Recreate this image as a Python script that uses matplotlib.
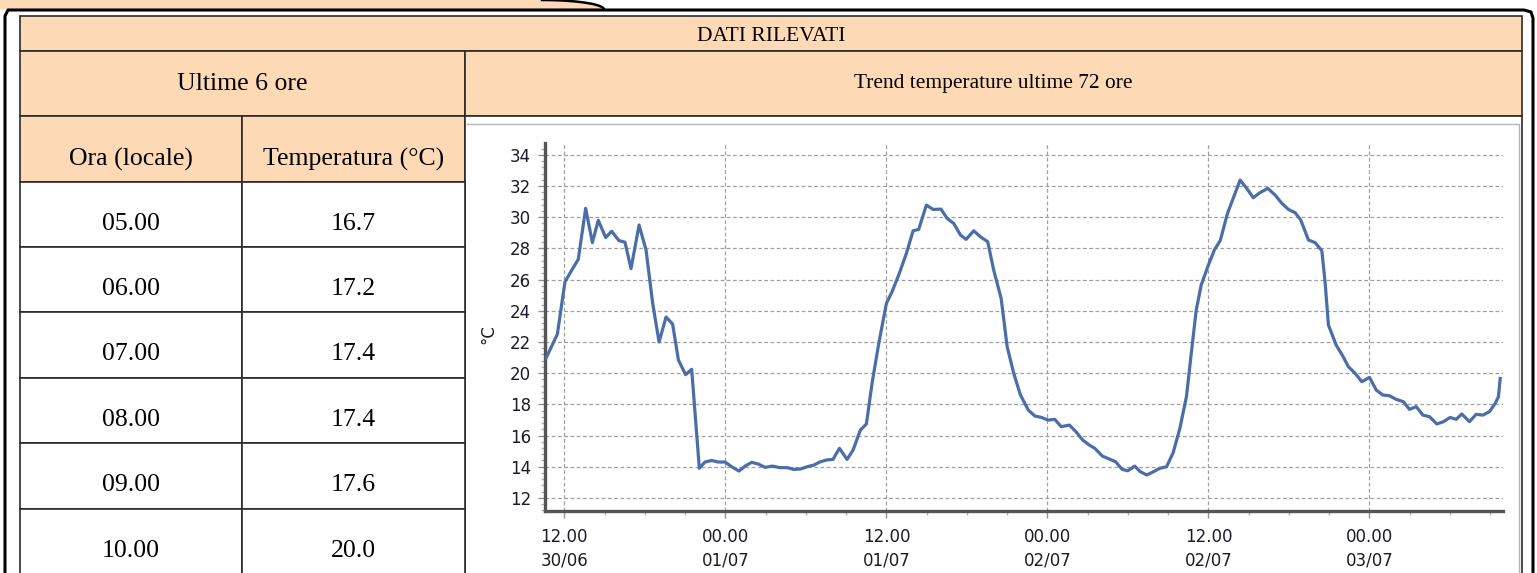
import numpy as np
import matplotlib
matplotlib.use("Agg")
import matplotlib.pyplot as plt
from matplotlib.patches import Rectangle, Polygon
from matplotlib.ticker import MultipleLocator, AutoMinorLocator

# dati tabella (ultime 6 ore)
ore = ["05.00", "06.00", "07.00", "08.00", "09.00", "10.00"]
temperature = ["16.7", "17.2", "17.4", "17.4", "17.6", "20.0"]

# trend 72 ore: ore rispetto alle 12.00 del 30/06, temperatura in °C
trend_ore = [-1.37, -0.52, 0.05, 0.55, 1.04, 1.59, 2.09, 2.53, 3.08, 3.53, 4.07, 4.52,
             4.97, 5.57, 6.09, 6.58, 7.06, 7.58, 8.07, 8.5, 9.04, 9.49, 10.06, 10.48,
             10.98, 11.48, 11.98, 12.47, 13.02, 13.47, 13.96, 14.46, 14.96, 15.5, 16.07,
             16.6, 17.09, 17.59, 18.09, 18.58, 19.03, 19.53, 20.02, 20.5, 21.07, 21.52,
             22.06, 22.51, 22.93, 23.43, 24.0, 24.42, 24.92, 25.49, 25.99, 26.41, 26.98,
             27.48, 28.07, 28.52, 29.02, 29.52, 29.94, 30.51, 31.0, 31.55, 32.0, 32.55,
             33.0, 33.49, 33.99, 34.58, 35.07, 35.56, 36.05, 36.54, 37.03, 37.64, 38.13,
             38.63, 39.12, 39.53, 40.1, 40.66, 41.08, 41.57, 41.99, 42.5, 42.92, 43.41,
             43.9, 44.39, 44.88, 45.37, 45.87, 46.36, 46.72, 47.09, 47.46, 47.95, 48.44,
             48.88, 49.42, 49.84, 50.36, 50.85, 51.34, 51.83, 52.42, 52.97, 53.47, 53.96,
             54.46, 54.88, 55.45, 55.95, 56.45, 56.7, 56.94, 57.52, 58.01, 58.43, 58.93,
             59.43, 60.0, 60.5, 60.99, 61.49, 61.99, 62.53, 62.98, 63.48, 63.98, 64.47,
             65.02, 65.52, 66.01, 66.46, 66.88, 67.45, 67.95, 68.45, 68.94, 69.37, 69.61,
             69.74]
trend_temp = [20.95, 22.5, 25.86, 26.6, 27.3, 30.57, 28.37, 29.8, 28.7, 29.1, 28.5, 28.4,
              26.7, 29.5, 27.9, 24.5, 22.0, 23.6, 23.15, 20.85, 19.9, 20.25, 13.9, 14.3,
              14.4, 14.3, 14.3, 14.0, 13.72, 14.04, 14.28, 14.17, 13.96, 14.04, 13.94,
              13.94, 13.83, 13.85, 14.0, 14.1, 14.3, 14.43, 14.47, 15.18, 14.47, 15.07,
              16.35, 16.74, 19.34, 21.9, 24.47, 25.22, 26.3, 27.68, 29.13, 29.22, 30.78,
              30.5, 30.52, 29.93, 29.6, 28.86, 28.58, 29.13, 28.75, 28.43, 26.6, 24.8,
              21.7, 19.99, 18.6, 17.63, 17.25, 17.16, 16.99, 17.04, 16.57, 16.67, 16.24,
              15.71, 15.39, 15.18, 14.68, 14.47, 14.32, 13.83, 13.74, 14.04, 13.68, 13.47,
              13.68, 13.9, 14.0, 14.9, 16.46, 18.49, 21.27, 24.05, 25.65, 26.83, 27.9,
              28.5, 30.25, 31.2, 32.38, 31.85, 31.25, 31.57, 31.85, 31.42, 30.89, 30.5,
              30.29, 29.82, 28.54, 28.37, 27.85, 25.76, 23.09, 21.8, 21.1, 20.41, 19.99,
              19.45, 19.73, 18.92, 18.6, 18.55, 18.32, 18.17, 17.68, 17.85, 17.31, 17.21,
              16.74, 16.89, 17.16, 17.04, 17.38, 16.89, 17.36, 17.31, 17.53, 18.06, 18.49,
              19.66]

tick_ore = [0, 12, 24, 36, 48, 60]
tick_etichette = ["12.00\n30/06", "00.00\n01/07", "12.00\n01/07",
                  "00.00\n02/07", "12.00\n02/07", "00.00\n03/07"]

W, H = 1537, 573
PESCA = "#fdd9b5"
BORDO = "#2b2b2b"
SERIF = "Liberation Serif"

fig = plt.figure(figsize=(W / 100, H / 100), dpi=100)
fig.patch.set_facecolor("white")

# sfondo in coordinate pixel
bg = fig.add_axes([0, 0, 1, 1])
bg.set_xlim(0, W)
bg.set_ylim(H, 0)
bg.axis("off")

# linguetta in alto a sinistra + bordo esterno
t = np.linspace(0, np.pi / 2, 30)
cx = 542 + 62 * np.sin(t)
cy = 9.5 * (1 - np.cos(t))
tab = np.vstack([[0, 0], np.column_stack([cx, cy]), [0, 9.5]])
bg.add_patch(Polygon(tab, closed=True, facecolor=PESCA, edgecolor="none", zorder=1))
bg.plot(cx, cy, color="black", lw=1.8, zorder=3)
bord_x = [5, 5, 8, 1524, 1531, 1533, 1533]
bord_y = [H + 5, 16, 10, 10, 12, 18, H + 5]
bg.plot(bord_x, bord_y, color="black", lw=2.2, zorder=3, solid_joinstyle="round")


def cella(x0, y0, x1, y1, testo="", size=18.5, base=None, fill="white"):
    bg.add_patch(Rectangle((x0, y0), x1 - x0, y1 - y0, facecolor=fill,
                           edgecolor=BORDO, lw=1.2, zorder=2))
    if testo:
        if base is None:
            base = (y0 + y1) / 2 + size * 0.45
        bg.text((x0 + x1) / 2, base, testo, ha="center", va="baseline",
                fontsize=size, family=SERIF, color="black", zorder=4)


cella(20, 16, 1522, 51, "DATI RILEVATI", 15.5, 41, PESCA)
cella(20, 51, 465, 116, "Ultime 6 ore", 18.5, 90, PESCA)
cella(465, 51, 1522, 116, "Trend temperature ultime 72 ore", 15.4, 88, PESCA)
cella(20, 116, 242, 182, "Ora (locale)", 18.5, 166, PESCA)
cella(242, 116, 465, 182, "Temperatura (°C)", 18.5, 166, PESCA)
cella(465, 116, 1522, H + 10)

righe = [182, 247, 312, 378, 443, 509, H + 10]
for i in range(len(ore)):
    y0, y1 = righe[i], righe[i + 1]
    b = y0 + 48
    cella(20, y0, 242, y1, ore[i], 18.5, b)
    cella(242, y0, 465, y1, temperature[i], 18.5, b)

# cornice grigia del grafico
bg.plot([467, 1519, 1519], [124, 124, H + 5], color="#b5b5b5", lw=1.0, zorder=3)

# grafico
ax = fig.add_axes([545 / W, (H - 511) / H, (1503 - 545) / W, (511 - 143) / H])
ax.set_facecolor("white")
ax.plot(trend_ore, trend_temp, color="#4a6ea8", lw=2.3, zorder=3)

ax.set_xlim(-1.44, 69.95)
ax.set_ylim(11.16, 34.76)
ax.set_xticks(tick_ore)
ax.set_xticklabels(tick_etichette, linespacing=1.4)
ax.xaxis.set_minor_locator(MultipleLocator(3))
ax.set_yticks(np.arange(12, 35, 2))
ax.yaxis.set_minor_locator(AutoMinorLocator(5))

ax.grid(True, which="major", color="#a0a0a0", linestyle=(0, (3, 2)), lw=0.9)
for s in ["top", "right"]:
    ax.spines[s].set_visible(False)
for s in ["left", "bottom"]:
    ax.spines[s].set_color("#555555")
    ax.spines[s].set_linewidth(2.4)

ax.tick_params(axis="both", which="major", length=5, width=1, color="#909090",
               labelsize=12, labelcolor="#1a1a2a")
ax.tick_params(axis="both", which="minor", length=3, width=1, color="#b0b0b0")
ax.tick_params(axis="x", which="major", pad=7)
ax.tick_params(axis="y", which="major", pad=5)

ax.set_ylabel("°C", fontsize=12, color="#1a1a2a")
ax.yaxis.set_label_coords(-0.05, 0.48)

fig.savefig("out.png", dpi=100)
